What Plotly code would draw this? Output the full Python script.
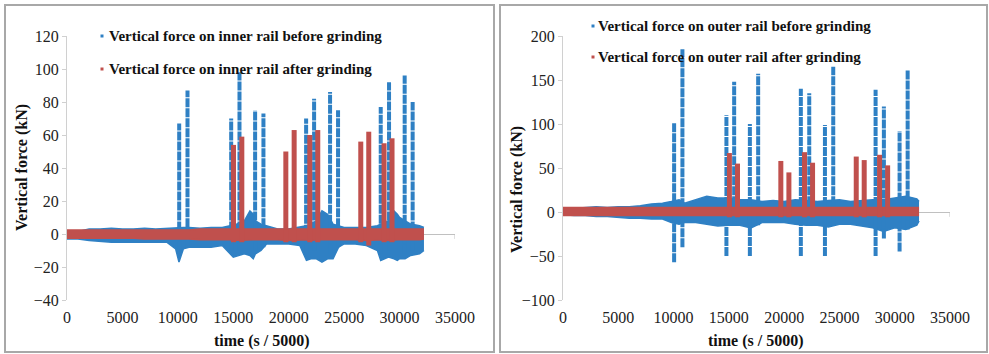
import plotly.graph_objects as go

W, H = 989, 354

# ---------------- data ----------------
# Inner rail (left panel)
inner_band_x = [0, 1000, 2000, 3000, 4000, 5000, 6000, 7000, 8000, 9000, 9800, 10100, 10500, 11000,
                12000, 13000, 14000, 14700, 15000, 16000, 16500, 16800, 17000, 17500, 18000, 19000,
                20000, 21000, 21600, 22000, 22500, 23000, 23500, 24000, 24500, 25000, 26000, 27000,
                28000, 28300, 29000, 29500, 29800, 30000, 30500, 31000, 31800, 32200]
inner_before_hi = [1, 1.5, 3, 3, 3.5, 3, 3, 3.5, 3, 3.5, 3.5, 4, 4, 4, 3.5, 4, 4, 5, 5, 8, 14, 12, 8, 6,
                   5, 3, 3, 4, 5, 6, 8, 14, 12, 6, 5, 4, 4, 4, 5, 6, 8, 14, 12, 10, 8, 6, 5, 4]
inner_before_lo = [-3, -3, -4, -4.5, -5, -5, -5, -5, -5, -5, -9, -17, -9, -8, -8, -8, -7, -12, -14, -12,
                   -13, -15, -12, -10, -6, -6, -6, -7, -16, -15, -15, -17, -15, -15, -8, -6, -6, -7,
                   -10, -16, -14, -15, -16, -15, -15, -13, -12, -10]
inner_after_hi = [2.5, 2.5, 2.5, 2.5, 2.5, 2.5, 2.5, 2.5, 2.5, 2.5, 2.5, 2.5, 2.5, 2.5, 3, 3, 3, 3, 3, 3,
                  3, 3, 3, 3, 3, 3, 3, 3, 3, 3, 3, 3, 3, 3, 3, 3, 3, 3, 3, 3, 3, 3, 3, 3, 3, 3, 3, 3]
inner_after_lo = [-2.5, -2.5, -2.5, -2.5, -2.5, -2.5, -2.5, -3, -3, -3, -3, -3, -3, -3, -3.5, -3.5, -3.5,
                  -3.5, -4, -3.5, -3.5, -3.5, -3.5, -3.5, -3.5, -3.5, -4, -3.5, -3.5, -4, -3.5, -3.5,
                  -3.5, -3.5, -3.5, -3.5, -3.5, -4, -3.5, -3.5, -4, -3.5, -3.5, -3.5, -3.5, -3.5, -3.5, -3]
inner_before_spike_x = [10120, 10870, 14810, 15560, 16970, 17720, 21570, 22290, 23730, 24450, 28300,
                        29050, 30460, 31180]
inner_before_spike_top = [67, 87, 70, 98, 75, 73, 70, 82, 86, 75, 77, 92, 96, 80]
inner_before_spike_bot = [-10, -8, -10, -10, -10, -8, -12, -10, -12, -8, -12, -10, -12, -10]
inner_after_spike_x = [15020, 15770, 19740, 20490, 21900, 22620, 26500, 27220, 28600, 29320]
inner_after_spike_top = [54, 59, 50, 63, 60, 63, 56, 62, 55, 58]
inner_after_spike_bot = [-5, -5, -5, -5, -5, -5, -5, -7, -5, -5]

# Outer rail (right panel)
outer_band_x = [0, 1000, 2000, 3000, 4000, 5000, 6000, 7000, 8000, 9000, 9800, 10500, 11000, 12000,
                13000, 14000, 15000, 16000, 17000, 18000, 19000, 20000, 21000, 22000, 23000, 24000,
                25000, 26000, 27000, 28000, 29000, 30000, 31000, 32000, 32200]
outer_before_hi = [3, 4, 5, 6, 5, 6, 6, 7, 9, 10, 12, 14, 10, 14, 18, 16, 16, 14, 14, 12, 13, 12, 14,
                   13, 12, 13, 14, 12, 13, 14, 14, 16, 18, 15, 12]
outer_before_lo = [-3, -4, -4, -5, -5, -6, -7, -7, -8, -8, -12, -14, -12, -12, -14, -16, -15, -15, -18,
                   -12, -12, -12, -14, -15, -15, -17, -14, -14, -16, -18, -22, -18, -20, -15, -10]
outer_after_hi = [5, 5, 5, 5, 5, 5, 5, 5, 5, 5, 5, 5, 5, 5, 5, 5, 5, 5, 5, 5, 5, 5, 5, 5, 5, 5, 5, 5,
                  5, 5, 5, 5, 5, 5, 5]
outer_after_lo = [-4, -4, -4, -4, -4, -4, -4, -4, -4, -4, -4, -4, -4, -4, -4, -4, -4, -4, -4, -4, -4,
                  -4, -4, -4, -4, -4, -4, -4, -4, -4, -4, -4, -4, -4, -4]
outer_before_spike_x = [10050, 10800, 14780, 15480, 16900, 17650, 21510, 22270, 23690, 24440, 28270,
                        29020, 30440, 31170]
outer_before_spike_top = [102, 185, 110, 148, 100, 157, 140, 135, 99, 165, 139, 120, 92, 161]
outer_before_spike_bot = [-57, -40, -50, -15, -50, -15, -50, -15, -50, -15, -50, -30, -45, -20]
outer_after_spike_x = [15050, 15780, 19700, 20430, 21840, 22570, 26520, 27240, 28630, 29360]
outer_after_spike_top = [67, 55, 58, 45, 68, 56, 63, 59, 65, 53]
outer_after_spike_bot = [-6, -6, -6, -6, -6, -6, -6, -6, -6, -6]

x_ticks = [0, 5000, 10000, 15000, 20000, 25000, 30000, 35000]
inner_y_ticks = [-40, -20, 0, 20, 40, 60, 80, 100, 120]
outer_y_ticks = [-100, -50, 0, 50, 100, 150, 200]

inner_legend = ["Vertical force on inner rail before grinding", "Vertical force on inner rail after grinding"]
outer_legend = ["Vertical force on outer rail before grinding", "Vertical force on outer rail after grinding"]
x_title = "time (s / 5000)"
y_title = "Vertical force (kN)"

BLUE = "#2f80c4"
RED = "#c0504d"
SERIF = "Liberation Serif"


def px(x):
    return x / W


def py(y):
    return 1 - y / H


def seg(xs, bots, tops):
    sx, sy = [], []
    for x, b, t in zip(xs, bots, tops):
        sx += [x, x, None]
        sy += [b, t, None]
    return sx, sy


fig = go.Figure()


def add_panel(xa, ya, bx, bhi, blo, ahi, alo, bsx, bst, bsb, asx, ast, asb):
    # blue band
    fig.add_trace(go.Scatter(x=bx, y=blo, mode="lines", line=dict(color=BLUE, width=1.5),
                             xaxis=xa, yaxis=ya, showlegend=False, hoverinfo="skip"))
    fig.add_trace(go.Scatter(x=bx, y=bhi, mode="lines", line=dict(color=BLUE, width=1.5), fill="tonexty",
                             fillcolor=BLUE, xaxis=xa, yaxis=ya, showlegend=False, hoverinfo="skip"))
    sx, sy = seg(bsx, bsb, bst)
    fig.add_trace(go.Scatter(x=sx, y=sy, mode="lines", line=dict(color=BLUE, width=4, dash="9px,1px"),
                             xaxis=xa, yaxis=ya, showlegend=False, hoverinfo="skip"))
    # red band
    fig.add_trace(go.Scatter(x=bx, y=alo, mode="lines", line=dict(color=RED, width=1.5),
                             xaxis=xa, yaxis=ya, showlegend=False, hoverinfo="skip"))
    fig.add_trace(go.Scatter(x=bx, y=ahi, mode="lines", line=dict(color=RED, width=1.5), fill="tonexty",
                             fillcolor=RED, xaxis=xa, yaxis=ya, showlegend=False, hoverinfo="skip"))
    sx, sy = seg(asx, asb, ast)
    fig.add_trace(go.Scatter(x=sx, y=sy, mode="lines", line=dict(color=RED, width=5),
                             xaxis=xa, yaxis=ya, showlegend=False, hoverinfo="skip"))


add_panel("x", "y", inner_band_x, inner_before_hi, inner_before_lo, inner_after_hi, inner_after_lo,
          inner_before_spike_x, inner_before_spike_top, inner_before_spike_bot,
          inner_after_spike_x, inner_after_spike_top, inner_after_spike_bot)
add_panel("x2", "y2", outer_band_x, outer_before_hi, outer_before_lo, outer_after_hi, outer_after_lo,
          outer_before_spike_x, outer_before_spike_top, outer_before_spike_bot,
          outer_after_spike_x, outer_after_spike_top, outer_after_spike_bot)

tickfont = dict(family=SERIF, size=16, color="#222")
axis_common = dict(showgrid=False, tickfont=tickfont, automargin=False)
xax = dict(axis_common, range=[0, 35000], tickvals=x_ticks, ticktext=[str(v) for v in x_ticks],
           showline=False, zeroline=False, ticks="", ticklabelstandoff=6)
yax = dict(axis_common, showline=True, linecolor="#d0d0d0", linewidth=1, ticks="outside", ticklen=4,
           tickcolor="#d0d0d0", zeroline=True, zerolinecolor="#c0c0c0", zerolinewidth=1)

top_px, bot_px = 36, 300
fig.update_layout(
    width=W, height=H, margin=dict(l=0, r=0, t=0, b=0),
    paper_bgcolor="white", plot_bgcolor="white", font=dict(family=SERIF),
    xaxis=dict(xax, domain=[px(67), px(455)], anchor="y"),
    yaxis=dict(yax, domain=[py(bot_px), py(top_px)], range=[-40, 120], tickvals=inner_y_ticks, anchor="x"),
    xaxis2=dict(xax, domain=[px(563), px(950)], anchor="y2"),
    yaxis2=dict(yax, domain=[py(bot_px), py(top_px)], range=[-100, 200], tickvals=outer_y_ticks, anchor="x2"),
)

shapes = []
# panel frames
for x0, x1 in [(5, 494), (500, 987)]:
    shapes.append(dict(type="rect", xref="paper", yref="paper", x0=px(x0), x1=px(x1), y0=py(352), y1=py(5),
                       line=dict(color="#a8a8a8", width=2), fillcolor="rgba(0,0,0,0)"))
# tick mark at end of the zero axis line
shapes.append(dict(type="line", xref="x", yref="y", x0=35000, x1=35000, y0=0, y1=-3,
                   line=dict(color="#c0c0c0", width=1)))
shapes.append(dict(type="line", xref="x2", yref="y2", x0=35000, x1=35000, y0=0, y1=-5.5,
                   line=dict(color="#c0c0c0", width=1)))

# legend markers
for (mx, my, col) in [(102, 36, BLUE), (102, 69, RED), (593, 26, BLUE), (593, 57, RED)]:
    shapes.append(dict(type="rect", xref="paper", yref="paper", x0=px(mx - 1.5), x1=px(mx + 1.5),
                       y0=py(my + 1.5), y1=py(my - 1.5), line=dict(width=0), fillcolor=col))
fig.update_layout(shapes=shapes)

legend_font = dict(family=SERIF, size=15, color="#111")
bold = dict(family=SERIF, size=16, color="#111")
ann = []
for text, (tx, ty) in zip(inner_legend + outer_legend, [(107, 36), (107, 69), (596, 26), (596, 57)]):
    ann.append(dict(text="<b>%s</b>" % text, x=px(tx), y=py(ty), xref="paper", yref="paper",
                    xanchor="left", yanchor="middle", showarrow=False, font=legend_font))
for cx in (262, 756):
    ann.append(dict(text="<b>%s</b>" % x_title, x=px(cx), y=py(341), xref="paper", yref="paper",
                    xanchor="center", yanchor="middle", showarrow=False, font=bold))
for cx, cy in ((22, 168), (517, 190)):
    ann.append(dict(text="<b>%s</b>" % y_title, x=px(cx), y=py(cy), xref="paper", yref="paper",
                    xanchor="center", yanchor="middle", showarrow=False, font=bold, textangle=-90))
fig.update_layout(annotations=ann)

fig.write_html("out.html")
